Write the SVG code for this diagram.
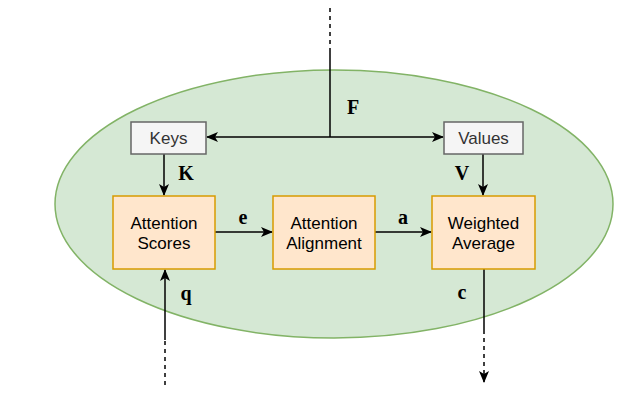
<svg xmlns="http://www.w3.org/2000/svg" width="644" height="418" viewBox="0 0 644 418">
<style>
.box{fill:#ffe6cc;stroke:#d79b00;stroke-width:1.5}
.gbox{fill:#f5f5f5;stroke:#666666;stroke-width:1.5}
.t{font-family:"Liberation Sans",Arial,sans-serif;font-size:17px;fill:#000;text-anchor:middle}
.gt{font-family:"Liberation Sans",Arial,sans-serif;font-size:17px;fill:#333333;text-anchor:middle}
.m{font-family:"Liberation Serif","Times New Roman",serif;font-size:20px;font-weight:bold;fill:#000;text-anchor:middle}
.ln{fill:none;stroke:#000;stroke-width:1.5}
.ds{fill:none;stroke:#000;stroke-width:1.5;stroke-dasharray:4 4}
</style>
<defs>
<marker id="ah" viewBox="0 0 12 10" refX="11" refY="5" markerWidth="12" markerHeight="10" markerUnits="userSpaceOnUse" orient="auto">
<path d="M0,0 L12,5 L0,10 L3,5 Z" fill="#000"/>
</marker>
</defs>
<rect width="644" height="418" fill="#fff"/>
<g id="container"><ellipse cx="334" cy="204" rx="279" ry="134" fill="#d5e8d4" stroke="#82b366" stroke-width="1.5"/></g>
<g id="connectors">
<line class="ds" x1="330" y1="8" x2="330" y2="52"/>
<line class="ln" x1="330" y1="52" x2="330" y2="137"/>
<line class="ln" x1="330" y1="137" x2="207" y2="137" marker-end="url(#ah)"/>
<line class="ln" x1="330" y1="137" x2="443" y2="137" marker-end="url(#ah)"/>
<line class="ln" x1="164" y1="154" x2="164" y2="195" marker-end="url(#ah)"/>
<line class="ln" x1="483" y1="154" x2="483" y2="195" marker-end="url(#ah)"/>
<line class="ln" x1="215" y1="232" x2="272" y2="232" marker-end="url(#ah)"/>
<line class="ln" x1="375" y1="232" x2="431" y2="232" marker-end="url(#ah)"/>
<line class="ds" x1="165" y1="385" x2="165" y2="340"/>
<line class="ln" x1="165" y1="340" x2="165" y2="270" marker-end="url(#ah)"/>
<line class="ln" x1="484" y1="269" x2="484" y2="330"/>
<line class="ds" x1="484" y1="330" x2="484" y2="382" marker-end="url(#ah)"/>
<text class="m" x="353" y="114">F</text>
<text class="m" x="186" y="180">K</text>
<text class="m" x="462" y="180">V</text>
<text class="m" x="243" y="224">e</text>
<text class="m" x="403" y="224">a</text>
<text class="m" x="186" y="300">q</text>
<text class="m" x="462" y="299">c</text>
</g>
<g id="keys"><rect class="gbox" x="131" y="122" width="75" height="32"/><text class="gt" x="168.5" y="144">Keys</text></g>
<g id="values"><rect class="gbox" x="444" y="122" width="79" height="32"/><text class="gt" x="483.5" y="144">Values</text></g>
<g id="scores"><rect class="box" x="113" y="196" width="102" height="73"/><text class="t" x="164" y="229">Attention</text><text class="t" x="164" y="249">Scores</text></g>
<g id="alignment"><rect class="box" x="273" y="196" width="102" height="73"/><text class="t" x="324" y="229">Attention</text><text class="t" x="324" y="249">Alignment</text></g>
<g id="average"><rect class="box" x="432" y="196" width="103" height="73"/><text class="t" x="483.5" y="229">Weighted</text><text class="t" x="483.5" y="249">Average</text></g>
</svg>
